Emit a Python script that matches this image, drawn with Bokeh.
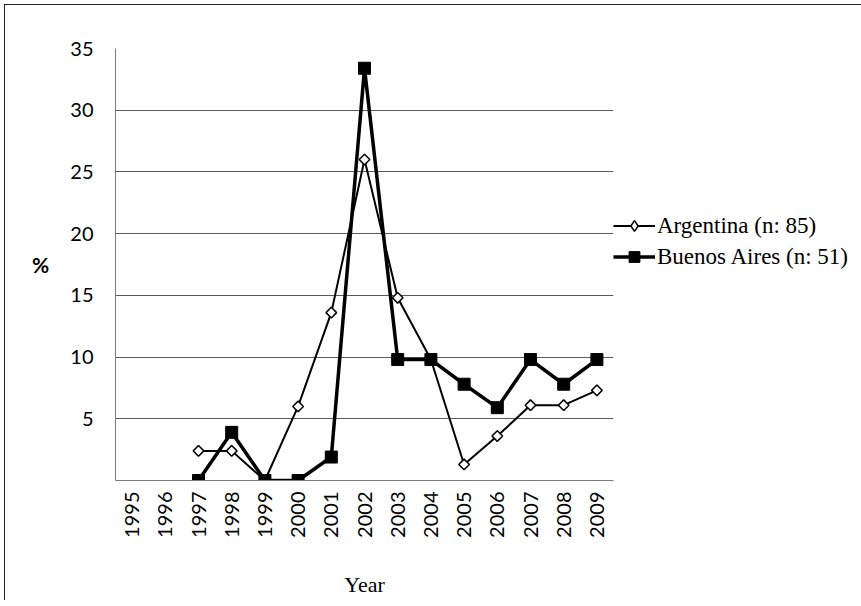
import math
from bokeh.plotting import figure
from bokeh.models import (FactorRange, Range1d, FixedTicker, Legend, LegendItem,
                          ColumnDataSource)
from bokeh.embed import file_html
from bokeh.resources import INLINE

years = [str(y) for y in range(1995, 2010)]
argentina = [float("nan"), float("nan"), 2.4, 2.4, 0.0, 6.0, 13.6, 26.0, 14.8, 9.8, 1.3, 3.6, 6.1, 6.1, 7.3]
buenos_aires = [float("nan"), float("nan"), 0.0, 3.9, 0.0, 0.0, 1.9, 33.4, 9.8, 9.8, 7.8, 5.9, 9.8, 7.8, 9.8]
y_ticks = [0, 5, 10, 15, 20, 25, 30, 35]
series_names = ["Argentina (n: 85)", "Buenos Aires (n: 51)"]

src = ColumnDataSource(dict(year=years, arg=argentina, ba=buenos_aires))

p = figure(x_range=FactorRange(*years), y_range=Range1d(0, 35),
           frame_width=498, frame_height=432, output_backend="svg", toolbar_location=None,
           min_border_left=115, min_border_top=48, min_border_bottom=120, min_border_right=0)
p.outline_line_color = None
p.background_fill_color = "white"
p.border_fill_color = None

# axes
p.yaxis.ticker = FixedTicker(ticks=y_ticks)
p.yaxis.major_label_overrides = {0: ""}
p.ygrid.ticker = FixedTicker(ticks=y_ticks[1:])
p.ygrid.grid_line_color = "#5a5a5a"
p.ygrid.grid_line_width = 1
p.xgrid.grid_line_color = None
for ax in (p.xaxis, p.yaxis):
    ax.axis_line_color = "#7a7a7a"
    ax.axis_line_width = 1
    ax.major_tick_line_color = None
    ax.minor_tick_line_color = None
    ax.major_tick_out = 0
    ax.major_tick_in = 0
    ax.major_label_text_font = "Lato"
    ax.major_label_text_font_size = "20px"
    ax.major_label_text_color = "black"
p.yaxis.major_label_standoff = 22
p.yaxis.axis_label = "%"
p.yaxis.axis_label_orientation = "horizontal"
p.yaxis.axis_label_text_font = "Lato"
p.yaxis.axis_label_text_font_style = "bold"
p.yaxis.axis_label_text_font_size = "21px"
p.yaxis.axis_label_text_color = "black"
p.yaxis.axis_label_standoff = 18
p.xaxis.major_label_orientation = math.pi / 2
p.xaxis.major_label_standoff = 11
p.xaxis.axis_label = "Year"
p.xaxis.axis_label_text_font = "Liberation Serif"
p.xaxis.axis_label_text_font_style = "normal"
p.xaxis.axis_label_text_font_size = "22px"
p.xaxis.axis_label_standoff = 31
p.xaxis.axis_label_text_color = "black"

# series
r_arg_line = p.line("year", "arg", source=src, line_color="black", line_width=2)
r_arg_pts = p.scatter("year", "arg", source=src, marker="square", angle=math.pi / 4,
                      size=7.5, fill_color="white", line_color="black", line_width=1.5)
r_ba_line = p.line("year", "ba", source=src, line_color="black", line_width=3.5)
r_ba_pts = p.scatter("year", "ba", source=src, marker="square", size=12,
                     fill_color="black", line_color="black")
# legend key for the diamond symbol (not drawn in the plot: its value is missing)
r_arg_key = p.scatter(x=[years[0]], y=[float("nan")], marker="diamond", size=15,
                      fill_color="white", line_color="black", line_width=1.5)

legend = Legend(items=[LegendItem(label=series_names[0], renderers=[r_arg_line, r_arg_key]),
                       LegendItem(label=series_names[1], renderers=[r_ba_line, r_ba_pts])],
                location=(0, 210), orientation="vertical")
legend.border_line_color = None
legend.background_fill_alpha = 0
legend.padding = 0
legend.margin = 0
legend.spacing = 4
legend.glyph_width = 42
legend.glyph_height = 27
legend.label_height = 27
legend.label_standoff = 2
legend.label_text_font = "Liberation Serif"
legend.label_text_font_size = "23px"
legend.label_text_color = "black"
p.add_layout(legend, "right")

p.styles = {"background": "white",
            "box-shadow": "inset 4px 4px 0 0 white, inset 5px 5px 0 0 #222222"}

open("out.html", "w").write(file_html(p, INLINE))
